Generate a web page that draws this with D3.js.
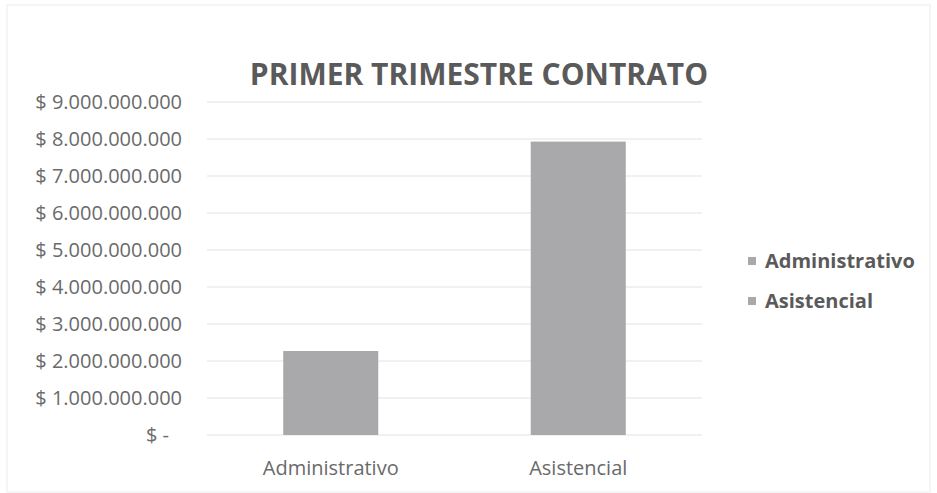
<!DOCTYPE html>
<html>
<head>
<meta charset="utf-8">
<script src="https://cdn.jsdelivr.net/npm/d3@7"></script>
<style>
  body { margin: 0; background: #fff; }
  text { font-family: "Open Sans", sans-serif; }
</style>
</head>
<body>
<div id="chart"></div>
<script>
var categories = ["Administrativo", "Asistencial"];
var values = [2270000000, 7930000000];
var tickValues = [0, 1e9, 2e9, 3e9, 4e9, 5e9, 6e9, 7e9, 8e9, 9e9];

var width = 937;
var height = 493;
var plot = { left: 207, right: 702, top: 102, bottom: 435 };

var svg = d3.select("#chart")
  .append("svg")
    .attr("width", width)
    .attr("height", height);

// faint chart border
svg.append("rect")
  .attr("x", 7).attr("y", 5)
  .attr("width", width - 14).attr("height", height - 6)
  .attr("fill", "none")
  .attr("stroke", "#ececec");

var x = d3.scaleBand()
  .domain(categories)
  .range([plot.left, plot.right]);

var y = d3.scaleLinear()
  .domain([0, 9e9])
  .range([plot.bottom, plot.top]);

function money(v) {
  if (v === 0) return "$ -";
  return "$ " + d3.format(",")(v).replace(/,/g, ".");
}

// gridlines
svg.append("g")
  .selectAll("line")
  .data(tickValues)
  .enter()
  .append("line")
    .attr("x1", plot.left)
    .attr("x2", plot.right)
    .attr("y1", function(d){ return y(d); })
    .attr("y2", function(d){ return y(d); })
    .attr("stroke", "#e2e2e2")
    .attr("stroke-width", 1);

// y labels
svg.append("g")
  .selectAll("text")
  .data(tickValues)
  .enter()
  .append("text")
    .attr("x", function(d){ return d === 0 ? 169 : 182; })
    .attr("y", function(d){ return y(d); })
    .attr("dy", "0.35em")
    .attr("text-anchor", "end")
    .attr("fill", "#6a6a6a")
    .style("font-size", "20px")
    .text(money);

// bars
var barW = x.bandwidth() * 0.384;
svg.append("g")
  .selectAll("rect")
  .data(categories)
  .enter()
  .append("rect")
    .attr("x", function(d){ return x(d) + (x.bandwidth() - barW) / 2; })
    .attr("y", function(d, i){ return y(values[i]); })
    .attr("width", barW)
    .attr("height", function(d, i){ return y(0) - y(values[i]); })
    .attr("fill", "#a9a9ac");

// x labels
svg.append("g")
  .selectAll("text")
  .data(categories)
  .enter()
  .append("text")
    .attr("x", function(d){ return x(d) + x.bandwidth() / 2; })
    .attr("y", 468)
    .attr("dy", "0.35em")
    .attr("text-anchor", "middle")
    .attr("fill", "#6a6a6a")
    .style("font-size", "20px")
    .text(function(d){ return d; });

// title
svg.append("text")
  .attr("x", 479)
  .attr("y", 74)
  .attr("dy", "0.35em")
  .attr("text-anchor", "middle")
  .attr("fill", "#5a5a5a")
  .style("font-size", "30px")
  .style("font-weight", "bold")
  .text("PRIMER TRIMESTRE CONTRATO");

// legend
var legend = svg.append("g")
  .selectAll("g")
  .data(categories)
  .enter()
  .append("g")
    .attr("transform", function(d, i){ return "translate(748," + (261 + i * 40) + ")"; });

legend.append("rect")
  .attr("x", 0).attr("y", -4)
  .attr("width", 8).attr("height", 8)
  .attr("fill", "#a9a9ac");

legend.append("text")
  .attr("x", 17)
  .attr("y", 0)
  .attr("dy", "0.35em")
  .attr("fill", "#5a5a5a")
  .style("font-size", "20px")
  .style("font-weight", "bold")
  .text(function(d){ return d; });
</script>
</body>
</html>
